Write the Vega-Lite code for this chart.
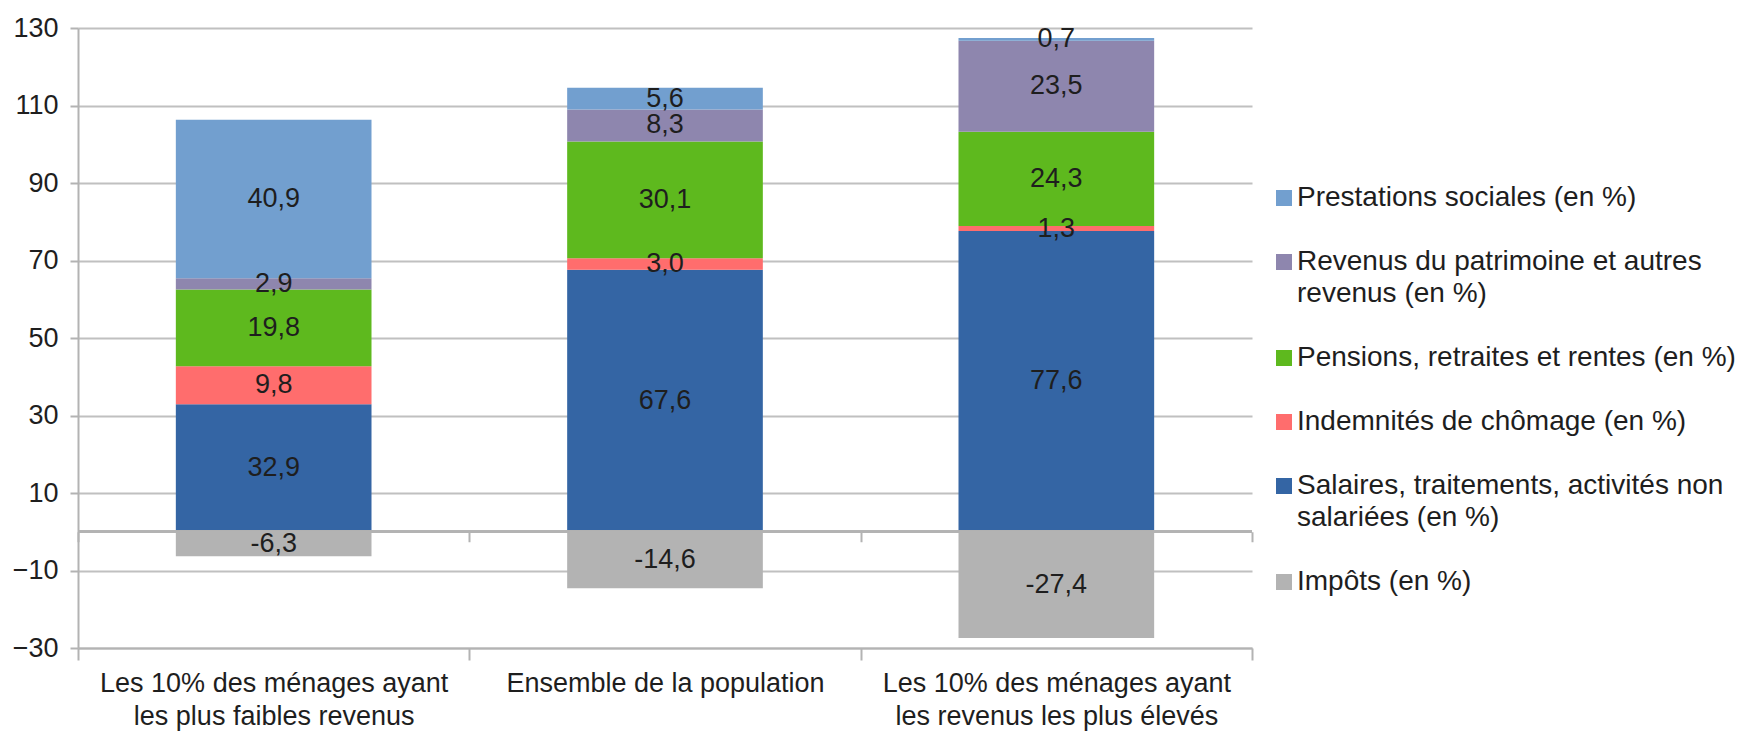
{
  "$schema": "https://vega.github.io/schema/vega-lite/v6.json",
  "width": 1174,
  "height": 620,
  "autosize": "none",
  "padding": {"left": 78, "top": 28, "right": 503, "bottom": 84},
  "background": "white",
  "data": {
    "values": [
      {"groupe": "Les 10% des ménages ayant les plus faibles revenus", "serie": "Salaires, traitements, activités non salariées (en %)", "valeur": 32.9},
      {"groupe": "Les 10% des ménages ayant les plus faibles revenus", "serie": "Indemnités de chômage (en %)", "valeur": 9.8},
      {"groupe": "Les 10% des ménages ayant les plus faibles revenus", "serie": "Pensions, retraites et rentes (en %)", "valeur": 19.8},
      {"groupe": "Les 10% des ménages ayant les plus faibles revenus", "serie": "Revenus du patrimoine et autres revenus (en %)", "valeur": 2.9},
      {"groupe": "Les 10% des ménages ayant les plus faibles revenus", "serie": "Prestations sociales (en %)", "valeur": 40.9},
      {"groupe": "Les 10% des ménages ayant les plus faibles revenus", "serie": "Impôts (en %)", "valeur": -6.3},
      {"groupe": "Ensemble de la population", "serie": "Salaires, traitements, activités non salariées (en %)", "valeur": 67.6},
      {"groupe": "Ensemble de la population", "serie": "Indemnités de chômage (en %)", "valeur": 3.0},
      {"groupe": "Ensemble de la population", "serie": "Pensions, retraites et rentes (en %)", "valeur": 30.1},
      {"groupe": "Ensemble de la population", "serie": "Revenus du patrimoine et autres revenus (en %)", "valeur": 8.3},
      {"groupe": "Ensemble de la population", "serie": "Prestations sociales (en %)", "valeur": 5.6},
      {"groupe": "Ensemble de la population", "serie": "Impôts (en %)", "valeur": -14.6},
      {"groupe": "Les 10% des ménages ayant les revenus les plus élevés", "serie": "Salaires, traitements, activités non salariées (en %)", "valeur": 77.6},
      {"groupe": "Les 10% des ménages ayant les revenus les plus élevés", "serie": "Indemnités de chômage (en %)", "valeur": 1.3},
      {"groupe": "Les 10% des ménages ayant les revenus les plus élevés", "serie": "Pensions, retraites et rentes (en %)", "valeur": 24.3},
      {"groupe": "Les 10% des ménages ayant les revenus les plus élevés", "serie": "Revenus du patrimoine et autres revenus (en %)", "valeur": 23.5},
      {"groupe": "Les 10% des ménages ayant les revenus les plus élevés", "serie": "Prestations sociales (en %)", "valeur": 0.7},
      {"groupe": "Les 10% des ménages ayant les revenus les plus élevés", "serie": "Impôts (en %)", "valeur": -27.4}
    ]
  },
  "transform": [
    {"calculate": "indexof(['Salaires, traitements, activités non salariées (en %)', 'Indemnités de chômage (en %)', 'Pensions, retraites et rentes (en %)', 'Revenus du patrimoine et autres revenus (en %)', 'Prestations sociales (en %)', 'Impôts (en %)'], datum.serie)", "as": "rang"},
    {"stack": "valeur", "groupby": ["groupe"], "sort": [{"field": "rang", "order": "ascending"}], "offset": "zero", "as": ["v0", "v1"]},
    {"calculate": "(datum.v0 + datum.v1) / 2", "as": "milieu"},
    {"calculate": "replace(replace(format(datum.valeur, '.1f'), '.', ','), '\u2212', '-')", "as": "etiquette"}
  ],
  "resolve": {"axis": {"x": "independent"}},
  "layer": [
    {
      "mark": {"type": "bar", "width": {"band": 0.5}},
      "encoding": {
        "x": {
          "field": "groupe", "type": "nominal", "sort": null, "title": null,
          "scale": {"paddingInner": 0, "paddingOuter": 0},
          "axis": {
            "orient": "bottom",
            "labelAngle": 0,
            "labelExpr": "indexof(datum.label, ' les ') > 0 ? [slice(datum.label, 0, indexof(datum.label, ' les ')), slice(datum.label, indexof(datum.label, ' les ') + 1)] : datum.label",
            "labelFontSize": 27, "labelLineHeight": 33, "labelPadding": 10, "labelColor": "#1e1e1e",
            "labelFont": "Liberation Sans", "labelBaseline": "top", "labelLimit": 0,
            "tickBand": "extent", "tickSize": 12, "tickColor": "#b3b3b3", "tickWidth": 2,
            "domainColor": "#b3b3b3", "domainWidth": 2, "grid": false
          }
        },
        "y": {
          "field": "v0", "type": "quantitative", "title": null,
          "scale": {"domain": [-30, 130], "nice": false, "zero": false},
          "axis": {
            "values": [-30, -10, 10, 30, 50, 70, 90, 110, 130],
            "labelFontSize": 27, "labelFont": "Liberation Sans", "labelColor": "#1e1e1e",
            "labelPadding": 12, "tickSize": 8, "tickColor": "#b3b3b3", "tickWidth": 2,
            "domainColor": "#b3b3b3", "domainWidth": 2,
            "grid": true, "gridColor": "#c0c0c0", "gridWidth": 2
          }
        },
        "y2": {"field": "v1"},
        "color": {
          "field": "serie", "type": "nominal", "title": null,
          "scale": {
            "domain": ["Prestations sociales (en %)", "Revenus du patrimoine et autres revenus (en %)", "Pensions, retraites et rentes (en %)", "Indemnités de chômage (en %)", "Salaires, traitements, activités non salariées (en %)", "Impôts (en %)"],
            "range": ["#729fcf", "#8e86ae", "#5eb91e", "#ff6d6d", "#3465a4", "#b3b3b3"]
          },
          "legend": {
            "orient": "none", "legendX": 1192, "legendY": 156,
            "symbolType": "square", "symbolSize": 256, "symbolStrokeWidth": 0,
            "labelFontSize": 28, "labelFont": "Liberation Sans", "labelColor": "#1e1e1e",
            "labelLimit": 600, "labelOffset": -1, "rowPadding": 36,
            "labelExpr": "datum.label == 'Revenus du patrimoine et autres revenus (en %)' ? ['Revenus du patrimoine et autres', 'revenus (en %)'] : datum.label == 'Salaires, traitements, activités non salariées (en %)' ? ['Salaires, traitements, activités non', 'salariées (en %)'] : datum.label"
          }
        }
      }
    },
    {
      "mark": {"type": "rule", "color": "#b3b3b3", "strokeWidth": 2},
      "encoding": {"y": {"datum": 0}}
    },
    {
      "mark": {"type": "text", "fontSize": 27, "font": "Liberation Sans", "color": "#1e1e1e", "baseline": "middle", "align": "center"},
      "encoding": {
        "x": {
          "field": "groupe", "type": "nominal", "sort": null, "title": null,
          "axis": {
            "orient": "bottom",
            "labels": false, "domain": false, "grid": false,
            "tickBand": "extent", "tickSize": 10, "tickColor": "#b3b3b3", "tickWidth": 2,
            "offset": {"expr": "scale('y', 0) - height"}
          }
        },
        "y": {"field": "milieu", "type": "quantitative"},
        "text": {"field": "etiquette"}
      }
    }
  ],
  "config": {
    "view": {"stroke": null},
    "style": {"guide-label": {"lineHeight": 32}}
  }
}
